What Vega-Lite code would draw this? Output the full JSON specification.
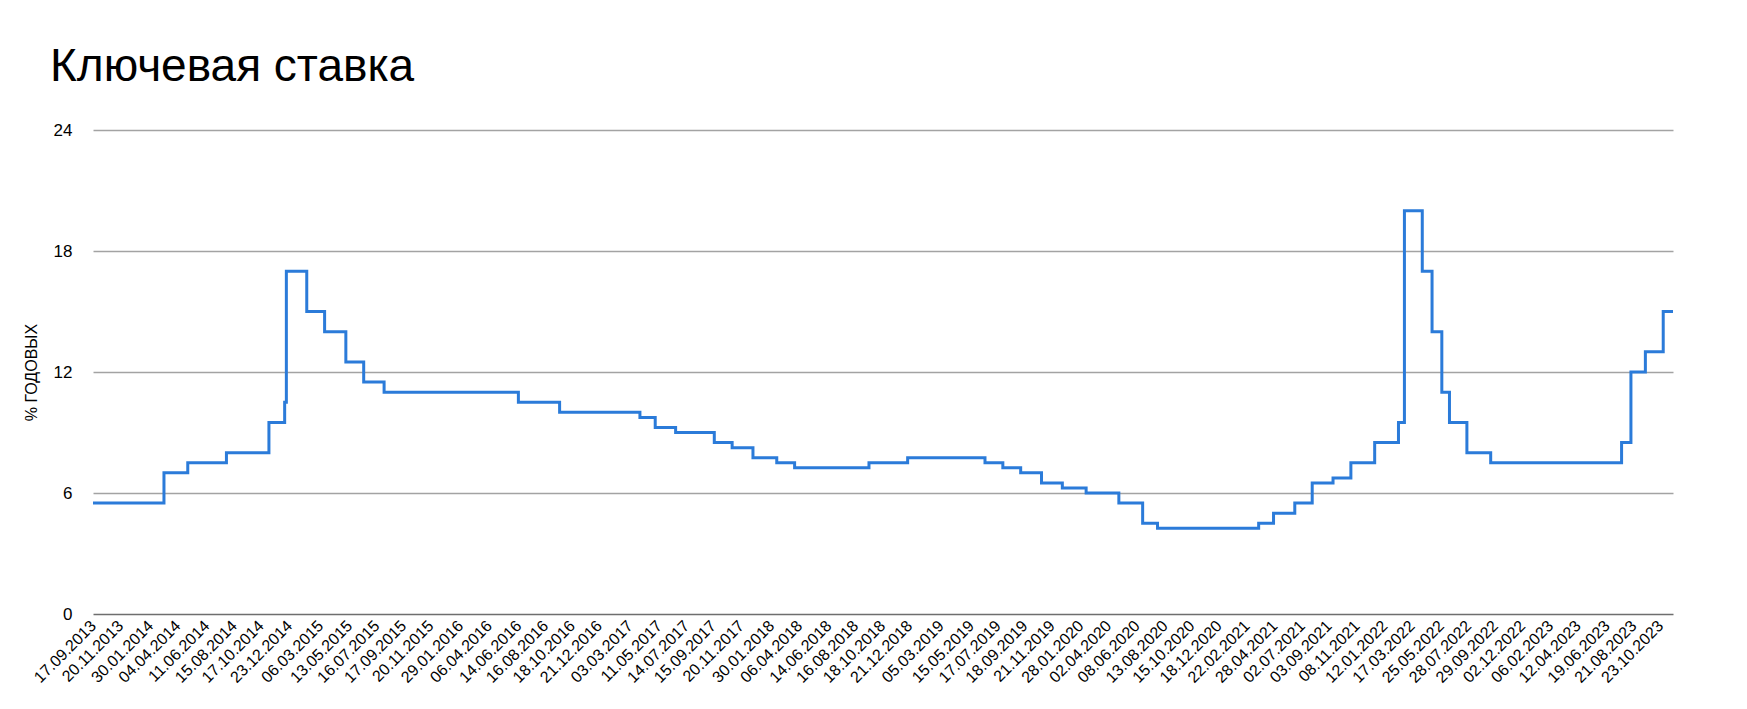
{
  "$schema": "https://vega.github.io/schema/vega-lite/v6.json",
  "autosize": {"type": "none"},
  "width": 1580,
  "height": 484,
  "padding": {"left": 93, "top": 130, "right": 74, "bottom": 95},
  "background": "#ffffff",
  "config": {"view": {"stroke": null}, "font": "Liberation Sans"},
  "title": {"text": "Ключевая ставка", "anchor": "start", "fontSize": 46, "font": "Liberation Sans", "fontWeight": "normal", "color": "#000000", "dx": -43, "dy": 50, "offset": 44, "baseline": "alphabetic", "frame": "group"},
  "data": {
    "values": [
      {"date": "2013-09-17", "rate": 5.5},
      {"date": "2014-03-03", "rate": 7.0},
      {"date": "2014-04-28", "rate": 7.5},
      {"date": "2014-07-28", "rate": 8.0},
      {"date": "2014-11-05", "rate": 9.5},
      {"date": "2014-12-12", "rate": 10.5},
      {"date": "2014-12-16", "rate": 17.0},
      {"date": "2015-02-02", "rate": 15.0},
      {"date": "2015-03-16", "rate": 14.0},
      {"date": "2015-05-05", "rate": 12.5},
      {"date": "2015-06-16", "rate": 11.5},
      {"date": "2015-08-03", "rate": 11.0},
      {"date": "2016-06-14", "rate": 10.5},
      {"date": "2016-09-19", "rate": 10.0},
      {"date": "2017-03-27", "rate": 9.75},
      {"date": "2017-05-02", "rate": 9.25},
      {"date": "2017-06-19", "rate": 9.0},
      {"date": "2017-09-18", "rate": 8.5},
      {"date": "2017-10-30", "rate": 8.25},
      {"date": "2017-12-18", "rate": 7.75},
      {"date": "2018-02-12", "rate": 7.5},
      {"date": "2018-03-26", "rate": 7.25},
      {"date": "2018-09-17", "rate": 7.5},
      {"date": "2018-12-17", "rate": 7.75},
      {"date": "2019-06-17", "rate": 7.5},
      {"date": "2019-07-29", "rate": 7.25},
      {"date": "2019-09-09", "rate": 7.0},
      {"date": "2019-10-28", "rate": 6.5},
      {"date": "2019-12-16", "rate": 6.25},
      {"date": "2020-02-10", "rate": 6.0},
      {"date": "2020-04-27", "rate": 5.5},
      {"date": "2020-06-22", "rate": 4.5},
      {"date": "2020-07-27", "rate": 4.25},
      {"date": "2021-03-22", "rate": 4.5},
      {"date": "2021-04-26", "rate": 5.0},
      {"date": "2021-06-15", "rate": 5.5},
      {"date": "2021-07-26", "rate": 6.5},
      {"date": "2021-09-13", "rate": 6.75},
      {"date": "2021-10-25", "rate": 7.5},
      {"date": "2021-12-20", "rate": 8.5},
      {"date": "2022-02-14", "rate": 9.5},
      {"date": "2022-02-28", "rate": 20.0},
      {"date": "2022-04-11", "rate": 17.0},
      {"date": "2022-05-04", "rate": 14.0},
      {"date": "2022-05-27", "rate": 11.0},
      {"date": "2022-06-14", "rate": 9.5},
      {"date": "2022-07-25", "rate": 8.0},
      {"date": "2022-09-19", "rate": 7.5},
      {"date": "2023-07-24", "rate": 8.5},
      {"date": "2023-08-15", "rate": 12.0},
      {"date": "2023-09-18", "rate": 13.0},
      {"date": "2023-10-30", "rate": 15.0},
      {"date": "2023-11-22", "rate": 15.0}
    ],
    "format": {"parse": {"date": "date:'%Y-%m-%d'"}}
  },
  "mark": {"type": "line", "interpolate": "step-after", "color": "#2b7bd9", "strokeWidth": 3, "strokeJoin": "miter", "strokeCap": "butt"},
  "encoding": {
    "x": {
      "field": "date",
      "type": "temporal",
      "scale": {"domain": [{"year": 2013, "month": 9, "date": 17}, {"year": 2023, "month": 11, "date": 22}]},
      "axis": {
        "title": null,
        "grid": false,
        "domain": false,
        "ticks": false,
        "format": "%d.%m.%Y",
        "labelAngle": -45,
        "labelAlign": "right",
        "labelBaseline": "middle",
        "labelPadding": 9,
        "labelFontSize": 16,
        "labelColor": "#000000",
        "labelOverlap": false,
        "labelFlush": false,
        "values": [
          {"year": 2013, "month": 9, "date": 17}, {"year": 2013, "month": 11, "date": 20}, {"year": 2014, "month": 1, "date": 30},
          {"year": 2014, "month": 4, "date": 4}, {"year": 2014, "month": 6, "date": 11}, {"year": 2014, "month": 8, "date": 15},
          {"year": 2014, "month": 10, "date": 17}, {"year": 2014, "month": 12, "date": 23}, {"year": 2015, "month": 3, "date": 6},
          {"year": 2015, "month": 5, "date": 13}, {"year": 2015, "month": 7, "date": 16}, {"year": 2015, "month": 9, "date": 17},
          {"year": 2015, "month": 11, "date": 20}, {"year": 2016, "month": 1, "date": 29}, {"year": 2016, "month": 4, "date": 6},
          {"year": 2016, "month": 6, "date": 14}, {"year": 2016, "month": 8, "date": 16}, {"year": 2016, "month": 10, "date": 18},
          {"year": 2016, "month": 12, "date": 21}, {"year": 2017, "month": 3, "date": 3}, {"year": 2017, "month": 5, "date": 11},
          {"year": 2017, "month": 7, "date": 14}, {"year": 2017, "month": 9, "date": 15}, {"year": 2017, "month": 11, "date": 20},
          {"year": 2018, "month": 1, "date": 30}, {"year": 2018, "month": 4, "date": 6}, {"year": 2018, "month": 6, "date": 14},
          {"year": 2018, "month": 8, "date": 16}, {"year": 2018, "month": 10, "date": 18}, {"year": 2018, "month": 12, "date": 21},
          {"year": 2019, "month": 3, "date": 5}, {"year": 2019, "month": 5, "date": 15}, {"year": 2019, "month": 7, "date": 17},
          {"year": 2019, "month": 9, "date": 18}, {"year": 2019, "month": 11, "date": 21}, {"year": 2020, "month": 1, "date": 28},
          {"year": 2020, "month": 4, "date": 2}, {"year": 2020, "month": 6, "date": 8}, {"year": 2020, "month": 8, "date": 13},
          {"year": 2020, "month": 10, "date": 15}, {"year": 2020, "month": 12, "date": 18}, {"year": 2021, "month": 2, "date": 22},
          {"year": 2021, "month": 4, "date": 28}, {"year": 2021, "month": 7, "date": 2}, {"year": 2021, "month": 9, "date": 3},
          {"year": 2021, "month": 11, "date": 8}, {"year": 2022, "month": 1, "date": 12}, {"year": 2022, "month": 3, "date": 17},
          {"year": 2022, "month": 5, "date": 25}, {"year": 2022, "month": 7, "date": 28}, {"year": 2022, "month": 9, "date": 29},
          {"year": 2022, "month": 12, "date": 2}, {"year": 2023, "month": 2, "date": 6}, {"year": 2023, "month": 4, "date": 12},
          {"year": 2023, "month": 6, "date": 19}, {"year": 2023, "month": 8, "date": 21}, {"year": 2023, "month": 10, "date": 23}
        ]
      }
    },
    "y": {
      "field": "rate",
      "type": "quantitative",
      "scale": {"domain": [0, 24], "nice": false, "zero": true},
      "axis": {
        "title": "% ГОДОВЫХ",
        "titleFontSize": 16,
        "titleFontWeight": "normal",
        "titleColor": "#000000",
        "titleX": -62,
        "titleY": 242,
        "titleAngle": -90,
        "titleAlign": "center",
        "titleBaseline": "middle",
        "values": [0, 6, 12, 18, 24],
        "domain": false,
        "ticks": false,
        "labelPadding": 21,
        "labelFontSize": 17,
        "labelColor": "#000000",
        "grid": true,
        "gridWidth": 1.5,
        "gridColor": {"condition": {"test": "datum.value === 0", "value": "#6e6e6e"}, "value": "#a3a3a3"}
      }
    }
  }
}
